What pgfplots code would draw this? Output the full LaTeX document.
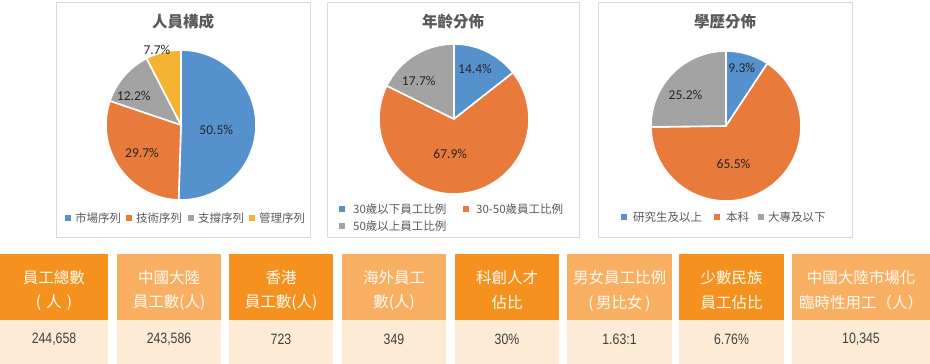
\documentclass[border=0pt]{standalone}
\usepackage{pgfplots}
\pgfplotsset{compat=1.18}
\usepackage{fontspec}
\setmainfont{Noto Sans CJK TC}
\newfontfamily\calfont{Carlito}
\newfontfamily\numfont[FakeStretch=0.82]{Liberation Sans}
\definecolor{pieblue}{HTML}{5591CD}
\definecolor{pieorange}{HTML}{E87A3C}
\definecolor{piegray}{HTML}{A3A3A3}
\definecolor{pieyellow}{HTML}{F6B333}
\definecolor{hdark}{HTML}{F5921F}
\definecolor{hlight}{HTML}{F9AF62}
\definecolor{vbg}{HTML}{FDEBD6}
\definecolor{boxgray}{HTML}{D9D9D9}
\definecolor{txtgray}{HTML}{595959}
\definecolor{numgray}{HTML}{404040}
\newcommand{\slice}[3]{\addplot[fill=#3, draw=white, line width=1.6pt, domain={90-3.6*(#2)}:{90-3.6*(#1)}, samples=90, variable=\t] ({cos(\t)},{sin(\t)}) -- (axis cs:0,0) -- cycle;}
\newcommand{\plab}[3]{\node[font=\calfont\fontsize{13.5}{15}\selectfont, text=black!85] at (axis cs:#1,#2) {#3};}
\pgfplotsset{pieaxis/.style={anchor=center, width=150pt, height=150pt, scale only axis, xmin=-1, xmax=1, ymin=-1, ymax=1, hide axis, clip=false}}
\begin{document}
\begin{tikzpicture}[x=1pt,y=1pt]
\path (0,0) rectangle (930,364);
% boxes
\draw[boxgray, line width=0.9pt] (56,127) rectangle (310,362);
\draw[boxgray, line width=0.9pt] (327,127) rectangle (579,362);
\draw[boxgray, line width=0.9pt] (598,127) rectangle (852,362);
% titles
\node[font=\fontsize{15.5}{18}\selectfont\bfseries, text=txtgray] at (183,342) {人員構成};
\node[font=\fontsize{15.5}{18}\selectfont\bfseries, text=txtgray] at (453,342) {年齡分佈};
\node[font=\fontsize{15.5}{18}\selectfont\bfseries, text=txtgray] at (725,342) {學歷分佈};
% pie 1
\begin{axis}[pieaxis, at={(181pt,239pt)}]
\slice{0}{50.5}{pieblue}
\slice{50.5}{80.2}{pieorange}
\slice{80.2}{92.4}{piegray}
\slice{92.4}{100}{pieyellow}
\plab{0.47}{-0.07}{50.5\%}
\plab{-0.52}{-0.37}{29.7\%}
\plab{-0.63}{0.39}{12.2\%}
\plab{-0.32}{1.0}{7.7\%}
\end{axis}
% pie 2
\begin{axis}[pieaxis, at={(454pt,245pt)}]
\slice{0}{14.4}{pieblue}
\slice{14.4}{82.3}{pieorange}
\slice{82.3}{100}{piegray}
\plab{0.28}{0.67}{14.4\%}
\plab{-0.05}{-0.46}{67.9\%}
\plab{-0.47}{0.51}{17.7\%}
\end{axis}
% pie 3
\begin{axis}[pieaxis, at={(726pt,238pt)}]
\slice{0}{9.3}{pieblue}
\slice{9.3}{74.8}{pieorange}
\slice{74.8}{100}{piegray}
\plab{0.21}{0.78}{9.3\%}
\plab{0.1}{-0.5}{65.5\%}
\plab{-0.54}{0.42}{25.2\%}
\end{axis}
% legends
\tikzset{lg/.style={anchor=west, inner sep=0pt, font=\fontsize{11.5}{13}\selectfont, text=txtgray}}
\fill[pieblue] (65,143) rectangle (71,149); \node[lg] at (75,146) {市場序列};
\fill[pieorange] (126,143) rectangle (132,149); \node[lg] at (136,146) {技術序列};
\fill[piegray] (188,143) rectangle (194,149); \node[lg] at (198,146) {支撐序列};
\fill[pieyellow] (249,143) rectangle (255,149); \node[lg] at (259,146) {管理序列};
\fill[pieblue] (339,152) rectangle (345,158); \node[lg] at (353,155) {30歲以下員工比例};
\fill[pieorange] (463,152) rectangle (469,158); \node[lg] at (476,155) {30-50歲員工比例};
\fill[piegray] (339,135) rectangle (345,141); \node[lg] at (353,138) {50歲以上員工比例};
\fill[pieblue] (621,144) rectangle (627,150); \node[lg] at (633,147) {研究生及以上};
\fill[pieorange] (714,144) rectangle (720,150); \node[lg] at (726,147) {本科};
\fill[piegray] (758,144) rectangle (764,150); \node[lg] at (768,147) {大專及以下};
% table
\tikzset{ht/.style={font=\fontsize{15.5}{18}\selectfont, text=white!96!orange, inner sep=0pt},
         vt/.style={font=\numfont\fontsize{15}{18}\selectfont, text=numgray, inner sep=0pt}}
\foreach \xa/\xb/\hc/\la/\lb/\v in {
  0/108/hdark/員工總數/{(\,\,人\,\,)}/{244,658},
  117/221/hlight/中國大陸/{員工數(人)}/{243,586},
  229/333/hdark/香港/{員工數(人)}/723,
  342/446/hlight/海外員工/{數(人)}/349,
  455/559/hdark/科創人才/佔比/30\%,
  567/672/hlight/男女員工比例/{(\,男比女\,)}/1.63:1,
  679/784/hdark/少數民族/員工佔比/6.76\%,
  792/930/hlight/中國大陸市場化/臨時性用工（人）/{10,345}} {
  \fill[\hc] (\xa,44) rectangle (\xb,110);
  \fill[vbg] (\xa,0) rectangle (\xb,44);
  \node[ht] at ({(\xa+\xb)/2},86) {\la};
  \node[ht] at ({(\xa+\xb)/2},61) {\lb};
  \node[vt] at ({(\xa+\xb)/2},25) {\v};
}
\end{tikzpicture}
\end{document}
